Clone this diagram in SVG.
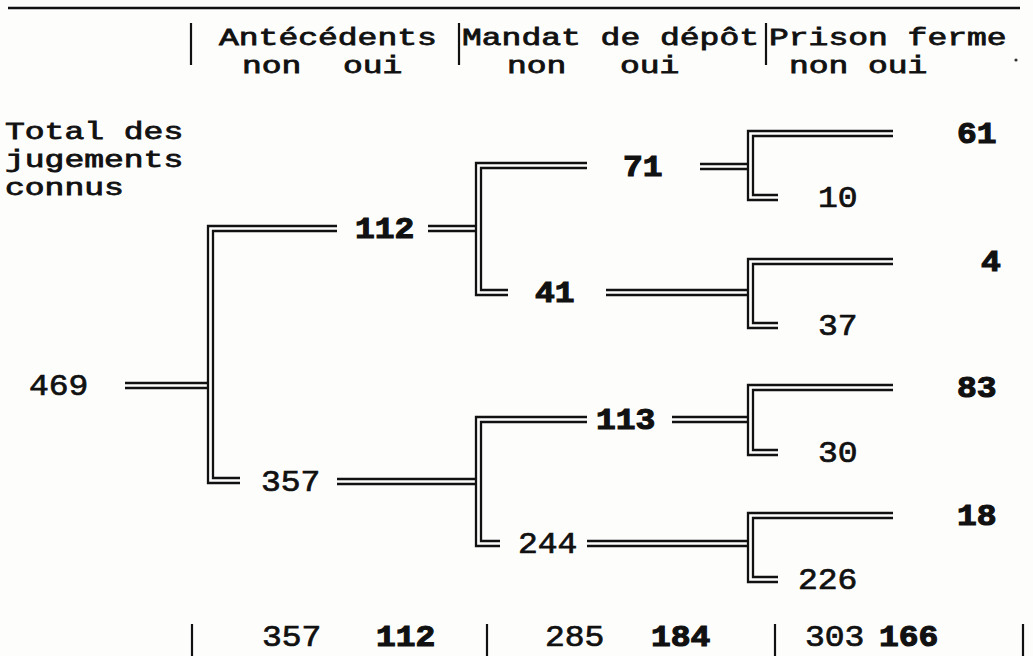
<svg xmlns="http://www.w3.org/2000/svg" width="1033" height="656" viewBox="0 0 1033 656">
<style>
  .t { font-family: "Liberation Mono", "Courier New", monospace; font-size: 29px; fill: #111; stroke: #111; stroke-width: 0.7; }
  .h { font-size: 24px; stroke-width: 0.8; }
  .b { font-weight: bold; stroke-width: 1.1; }
  .dl { fill: none; stroke: #111; stroke-width: 2.3; }
  .bar { stroke: #111; stroke-width: 2.2; }
</style>
<rect width="1033" height="656" fill="#fdfdfc"/>
<line x1="8" y1="8" x2="1020" y2="8" stroke="#111" stroke-width="2.5"/>

<g id="header">
  <line class="bar" x1="191" y1="23" x2="191" y2="65"/>
  <line class="bar" x1="459" y1="23" x2="459" y2="65"/>
  <line class="bar" x1="766" y1="23" x2="766" y2="65"/>
  <text class="t h" x="219" y="45" textLength="217.8" lengthAdjust="spacingAndGlyphs">Antécédents</text>
  <text class="t h" x="242" y="73" textLength="59.4" lengthAdjust="spacingAndGlyphs">non</text>
  <text class="t h" x="343" y="73" textLength="59.4" lengthAdjust="spacingAndGlyphs">oui</text>
  <text class="t h" x="462" y="45" textLength="297" lengthAdjust="spacingAndGlyphs">Mandat de dépôt</text>
  <text class="t h" x="507" y="73" textLength="59.4" lengthAdjust="spacingAndGlyphs">non</text>
  <text class="t h" x="620" y="73" textLength="59.4" lengthAdjust="spacingAndGlyphs">oui</text>
  <text class="t h" x="769" y="45" textLength="237.6" lengthAdjust="spacingAndGlyphs">Prison ferme</text>
  <text class="t h" x="789" y="73" textLength="59.4" lengthAdjust="spacingAndGlyphs">non</text>
  <text class="t h" x="868" y="73" textLength="59.4" lengthAdjust="spacingAndGlyphs">oui</text>
  <circle cx="1016" cy="60" r="1.6" fill="#333"/>
</g>

<g id="label-total">
  <text class="t h" x="5" y="139" textLength="178.2" lengthAdjust="spacingAndGlyphs">Total des</text>
  <text class="t h" x="5" y="167" textLength="178.2" lengthAdjust="spacingAndGlyphs">jugements</text>
  <text class="t h" x="5" y="195" textLength="118.8" lengthAdjust="spacingAndGlyphs">connus</text>
</g>

<g id="connectors">
  <path class="dl" d="M125 383 H208 M125 388 H208"/>
  <path class="dl" d="M337 226 H208 V483 H240"/>
  <path class="dl" d="M337 231 H213 V478 H240"/>
  <path class="dl" d="M428 226 H476 M428 231 H476"/>
  <path class="dl" d="M587 163 H476 V295 H508"/>
  <path class="dl" d="M587 168 H481 V290 H508"/>
  <path class="dl" d="M337 479 H476 M337 484 H476"/>
  <path class="dl" d="M587 417 H476 V546 H500"/>
  <path class="dl" d="M587 422 H481 V541 H500"/>
  <path class="dl" d="M700 164 H748 M700 169 H748"/>
  <path class="dl" d="M893 131 H748 V200 H778"/>
  <path class="dl" d="M893 136 H753 V195 H778"/>
  <path class="dl" d="M606 290 H748 M606 295 H748"/>
  <path class="dl" d="M893 259 H748 V328 H778"/>
  <path class="dl" d="M893 264 H753 V323 H778"/>
  <path class="dl" d="M672 417 H748 M672 422 H748"/>
  <path class="dl" d="M893 385 H748 V455 H778"/>
  <path class="dl" d="M893 390 H753 V450 H778"/>
  <path class="dl" d="M587 541 H748 M587 546 H748"/>
  <path class="dl" d="M893 513 H748 V582 H778"/>
  <path class="dl" d="M893 518 H753 V577 H778"/>
</g>

<g id="n469"><text class="t" x="29" y="395" textLength="59.4" lengthAdjust="spacingAndGlyphs">469</text></g>
<g id="n112"><text class="t b" x="355" y="238" textLength="59.4" lengthAdjust="spacingAndGlyphs">112</text></g>
<g id="n357"><text class="t" x="261" y="491" textLength="59.4" lengthAdjust="spacingAndGlyphs">357</text></g>
<g id="n71"><text class="t b" x="623" y="176" textLength="39.6" lengthAdjust="spacingAndGlyphs">71</text></g>
<g id="n41"><text class="t b" x="535" y="302" textLength="39.6" lengthAdjust="spacingAndGlyphs">41</text></g>
<g id="n113"><text class="t b" x="596" y="429" textLength="59.4" lengthAdjust="spacingAndGlyphs">113</text></g>
<g id="n244"><text class="t" x="518" y="553" textLength="59.4" lengthAdjust="spacingAndGlyphs">244</text></g>
<g id="n61"><text class="t b" x="957" y="143" textLength="39.6" lengthAdjust="spacingAndGlyphs">61</text></g>
<g id="n10"><text class="t" x="818" y="207" textLength="39.6" lengthAdjust="spacingAndGlyphs">10</text></g>
<g id="n4"><text class="t b" x="981" y="271" textLength="19.8" lengthAdjust="spacingAndGlyphs">4</text></g>
<g id="n37"><text class="t" x="818" y="335" textLength="39.6" lengthAdjust="spacingAndGlyphs">37</text></g>
<g id="n83"><text class="t b" x="957" y="397" textLength="39.6" lengthAdjust="spacingAndGlyphs">83</text></g>
<g id="n30"><text class="t" x="818" y="462" textLength="39.6" lengthAdjust="spacingAndGlyphs">30</text></g>
<g id="n18"><text class="t b" x="957" y="525" textLength="39.6" lengthAdjust="spacingAndGlyphs">18</text></g>
<g id="n226"><text class="t" x="798" y="589" textLength="59.4" lengthAdjust="spacingAndGlyphs">226</text></g>

<g id="totals">
  <line class="bar" x1="192" y1="624" x2="192" y2="656"/>
  <line class="bar" x1="487" y1="624" x2="487" y2="656"/>
  <line class="bar" x1="775" y1="624" x2="775" y2="656"/>
  <line class="bar" x1="1023" y1="624" x2="1023" y2="656"/>
  <text class="t" x="262" y="646" textLength="59.4" lengthAdjust="spacingAndGlyphs">357</text>
  <text class="t b" x="376" y="646" textLength="59.4" lengthAdjust="spacingAndGlyphs">112</text>
  <text class="t" x="545" y="646" textLength="59.4" lengthAdjust="spacingAndGlyphs">285</text>
  <text class="t b" x="651" y="646" textLength="59.4" lengthAdjust="spacingAndGlyphs">184</text>
  <text class="t" x="805" y="646" textLength="59.4" lengthAdjust="spacingAndGlyphs">303</text>
  <text class="t b" x="879" y="646" textLength="59.4" lengthAdjust="spacingAndGlyphs">166</text>
</g>
</svg>
